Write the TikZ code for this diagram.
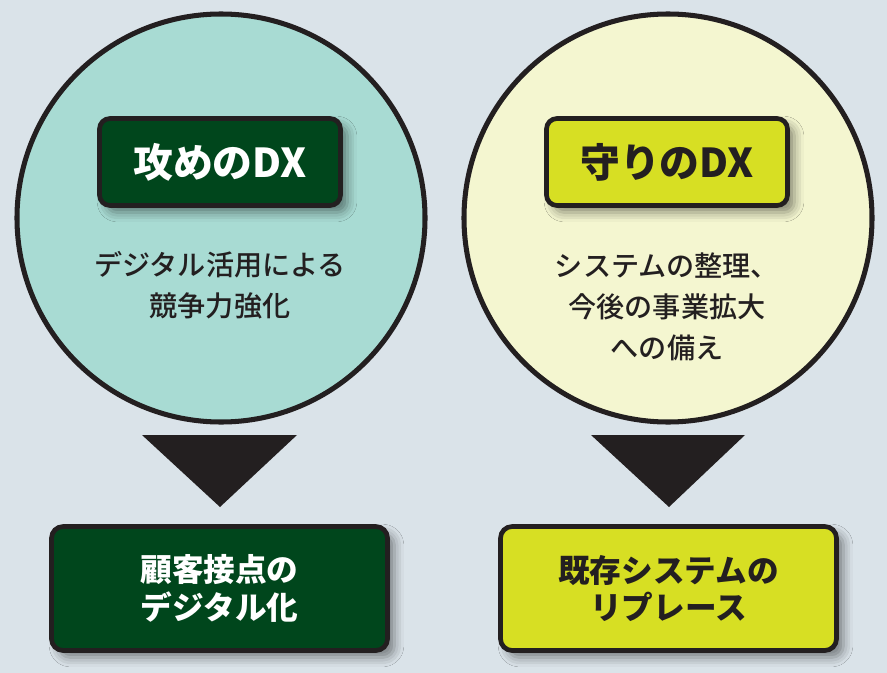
\documentclass[tikz,border=0pt]{standalone}
\usepackage{fontspec}
\setmainfont{Noto Sans CJK JP}
\newfontfamily\subfont{Noto Sans CJK JP Medium}
\usetikzlibrary{shadows.blur}
\definecolor{bgcol}{HTML}{DAE3E9}
\definecolor{mint}{HTML}{A8DBD3}
\definecolor{cream}{HTML}{F4F6D0}
\definecolor{darkgreen}{HTML}{00461C}
\definecolor{lime}{HTML}{D7DF23}
\definecolor{ink}{HTML}{231F20}

\begin{document}
\begin{tikzpicture}[x=0.03cm, y=-0.03cm,
  circ/.style={circle, draw=ink, line width=4.3pt, minimum size=12.24cm, inner sep=0pt},
  boxshadow/.style={blur shadow={shadow xshift=6pt, shadow yshift=-6pt, shadow blur radius=8pt, shadow opacity=45}},
  titlebox/.style={rectangle, rounded corners=9pt, draw=ink, line width=4pt, minimum width=7.23cm, minimum height=2.61cm, boxshadow, font=\bfseries\fontsize{34}{40}\selectfont},
  endbox/.style={rectangle, rounded corners=10pt, draw=ink, line width=4pt, minimum width=10.08cm, minimum height=3.72cm, boxshadow, align=center, font=\bfseries\fontsize{27}{32}\selectfont},
  sub/.style={align=center, text=ink, font=\subfont\fontsize{24}{35}\selectfont}]
  \useasboundingbox[fill=bgcol] (0,0) rectangle (887,673);

  % left: offence
  \node (c1) [circ, fill=mint] at (221,218) {};
  \node (t1) [titlebox, fill=darkgreen, text=white] at (220,162) {攻めのDX};
  \node (s1) [sub] at (220,285) {デジタル活用による\\競争力強化};
  \fill[ink] (142,435) -- (297,435) -- (220,507) -- cycle;
  \node (e1) [endbox, fill=darkgreen, text=white] at (219.5,588.5) {顧客接点の\\デジタル化};

  % right: defence
  \node (c2) [circ, fill=cream] at (668,218) {};
  \node (t2) [titlebox, fill=lime, text=ink] at (667,162) {守りのDX};
  \node (s2) [sub] at (667,307) {システムの整理、\\今後の事業拡大\\への備え};
  \fill[ink] (591,435) -- (745,435) -- (669,507) -- cycle;
  \node (e2) [endbox, fill=lime, text=ink] at (668.5,588.5) {既存システムの\\リプレース};

\end{tikzpicture}
\end{document}
